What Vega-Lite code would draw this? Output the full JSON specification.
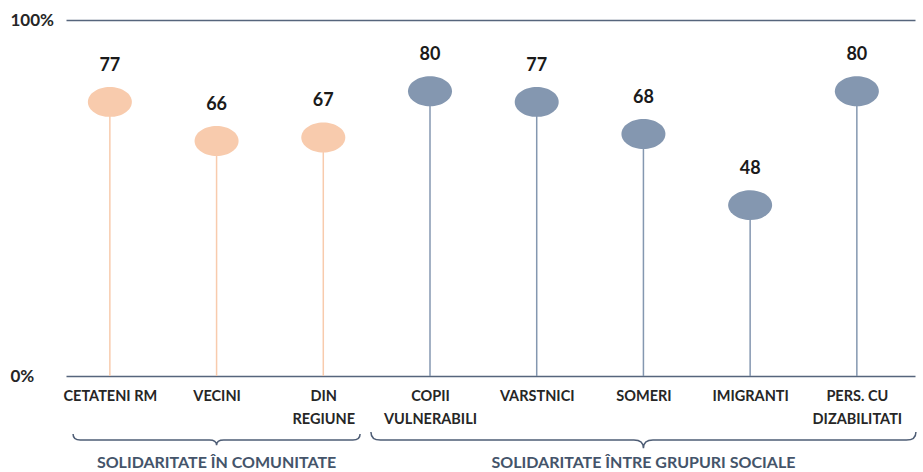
{
  "$schema": "https://vega.github.io/schema/vega-lite/v6.json",
  "width": 849,
  "height": 356,
  "autosize": {"type": "none"},
  "padding": {"left": 66, "top": 20, "right": 8, "bottom": 96},
  "background": "white",
  "config": {"view": {"stroke": null}, "font": "Lato"},
  "datasets": {
    "items": [
      {"cat": "CETATENI RM", "value": 77, "group": "SOLIDARITATE ÎN COMUNITATE"},
      {"cat": "VECINI", "value": 66, "group": "SOLIDARITATE ÎN COMUNITATE"},
      {"cat": "DIN|REGIUNE", "value": 67, "group": "SOLIDARITATE ÎN COMUNITATE"},
      {"cat": "COPII|VULNERABILI", "value": 80, "group": "SOLIDARITATE ÎNTRE GRUPURI SOCIALE"},
      {"cat": "VARSTNICI", "value": 77, "group": "SOLIDARITATE ÎNTRE GRUPURI SOCIALE"},
      {"cat": "SOMERI", "value": 68, "group": "SOLIDARITATE ÎNTRE GRUPURI SOCIALE"},
      {"cat": "IMIGRANTI", "value": 48, "group": "SOLIDARITATE ÎNTRE GRUPURI SOCIALE"},
      {"cat": "PERS. CU|DIZABILITATI", "value": 80, "group": "SOLIDARITATE ÎNTRE GRUPURI SOCIALE"}
    ],
    "groups": [
      {"group": "SOLIDARITATE ÎN COMUNITATE", "cat": "VECINI"},
      {"group": "SOLIDARITATE ÎNTRE GRUPURI SOCIALE", "cat": "SOMERI"}
    ]
  },
  "encoding": {
    "x": {
      "field": "cat",
      "type": "nominal",
      "scale": {
        "type": "point",
        "domain": ["CETATENI RM", "VECINI", "DIN|REGIUNE", "COPII|VULNERABILI", "VARSTNICI", "SOMERI", "IMIGRANTI", "PERS. CU|DIZABILITATI"],
        "padding": 0.478,
        "align": 0.43
      },
      "axis": {
        "title": null,
        "domain": false,
        "ticks": false,
        "labelAngle": 0,
        "labelExpr": "split(datum.label, '|')",
        "labelFont": "Lato",
        "labelFontSize": 14.5,
        "labelFontWeight": "bold",
        "labelColor": "#262626",
        "labelPadding": 13,
        "labelLineHeight": 23,
        "labelBaseline": "top",
        "labelOverlap": false,
        "labelLimit": 200
      }
    }
  },
  "layer": [
    {
      "data": {"name": "items"},
      "mark": {"type": "rule", "strokeWidth": 1.5},
      "encoding": {
        "y": {
          "field": "value",
          "type": "quantitative",
          "scale": {"domain": [0, 100], "nice": false},
          "axis": {
            "title": null,
            "values": [0, 100],
            "labelExpr": "datum.value + '%'",
            "grid": true,
            "gridColor": "#56657C",
            "gridWidth": 1.5,
            "domain": false,
            "ticks": false,
            "labelAlign": "left",
            "labelPadding": 56,
            "labelFont": "Lato",
            "labelFontSize": 17,
            "labelFontWeight": "bold",
            "labelColor": "#262626"
          }
        },
        "y2": {"datum": 0},
        "color": {
          "field": "group",
          "type": "nominal",
          "scale": {"domain": ["SOLIDARITATE ÎN COMUNITATE", "SOLIDARITATE ÎNTRE GRUPURI SOCIALE"], "range": ["#F8CBAD", "#8497B0"]},
          "legend": null
        }
      }
    },
    {
      "data": {"name": "items"},
      "mark": {"type": "point", "filled": true, "opacity": 1, "size": 1936, "shape": "M-1,0 A1,0.68 0 1,1 1,0 A1,0.68 0 1,1 -1,0 Z"},
      "encoding": {
        "y": {"field": "value", "type": "quantitative", "scale": {"domain": [0, 100], "nice": false}},
        "color": {
          "field": "group",
          "type": "nominal",
          "scale": {"domain": ["SOLIDARITATE ÎN COMUNITATE", "SOLIDARITATE ÎNTRE GRUPURI SOCIALE"], "range": ["#F7C4A0", "#8497B0"]},
          "legend": null
        }
      }
    },
    {
      "data": {"name": "items"},
      "mark": {"type": "text", "dy": -36, "fontSize": 18, "fontWeight": "bold", "font": "Lato", "color": "#1a1a1a", "baseline": "middle"},
      "encoding": {
        "y": {"field": "value", "type": "quantitative", "scale": {"domain": [0, 100], "nice": false}},
        "text": {"field": "value", "type": "quantitative"}
      }
    },
    {
      "data": {"name": "groups"},
      "transform": [{"filter": "datum.cat == 'VECINI'"}],
      "mark": {"type": "point", "filled": false, "opacity": 1, "stroke": "#4E5D75", "strokeWidth": 1.5, "size": 82369, "shape": "M-1,-0.042 Q-1,0 -0.95,0 L-0.05,0 Q0,0 0,0.036 Q0,0 0.05,0 L0.95,0 Q1,0 1,-0.042"},
      "encoding": {
        "y": {"datum": -18, "type": "quantitative", "scale": {"domain": [0, 100], "nice": false}}
      }
    },
    {
      "data": {"name": "groups"},
      "transform": [{"filter": "datum.cat == 'SOMERI'"}],
      "mark": {"type": "point", "filled": false, "opacity": 1, "stroke": "#4E5D75", "strokeWidth": 1.5, "size": 297025, "shape": "M-1,-0.03 Q-1,0 -0.965,0 L-0.035,0 Q0,0 0,0.03 Q0,0 0.035,0 L0.965,0 Q1,0 1,-0.03"},
      "encoding": {
        "y": {"datum": -18, "type": "quantitative", "scale": {"domain": [0, 100], "nice": false}}
      }
    },
    {
      "data": {"name": "groups"},
      "mark": {"type": "text", "dy": 23, "fontSize": 16, "fontWeight": "bold", "font": "Lato", "color": "#44546A", "baseline": "middle"},
      "encoding": {
        "y": {"datum": -18, "type": "quantitative", "scale": {"domain": [0, 100], "nice": false}},
        "text": {"field": "group", "type": "nominal"}
      }
    }
  ]
}
